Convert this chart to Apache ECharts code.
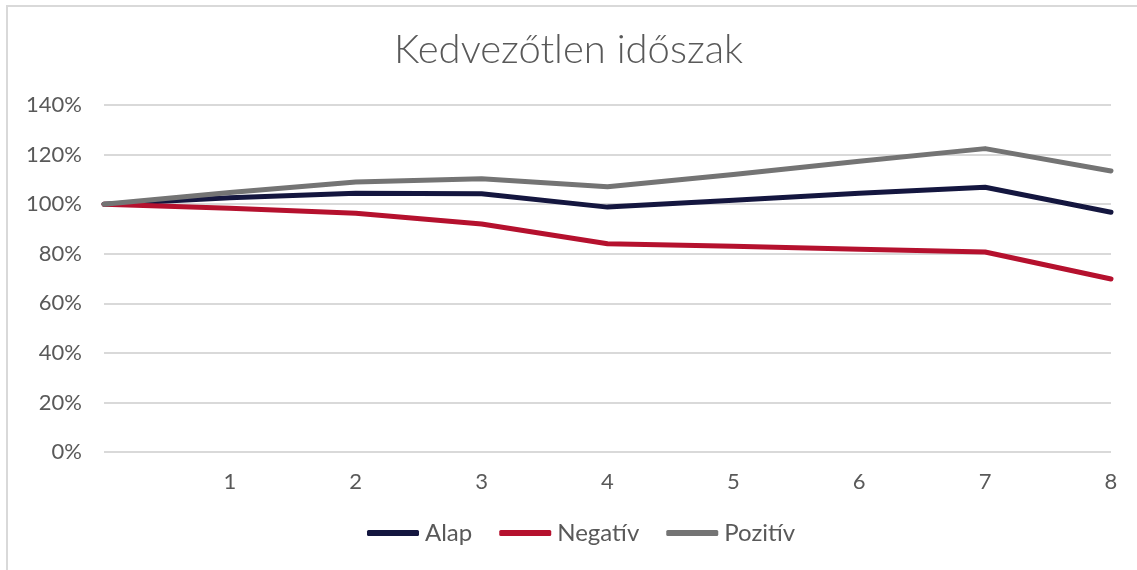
<!DOCTYPE html>
<html>
<head>
<meta charset="utf-8">
<script src="https://cdn.jsdelivr.net/npm/echarts@6/dist/echarts.min.js"></script>
<style>
    html, body { margin: 0; padding: 0; background: #fff; }
    #frame { position: absolute; left: 6px; top: 5px; width: 1131px; height: 565px; border-top: 2px solid #d9d9d9; border-left: 2px solid #d9d9d9; }
    #chart { position: absolute; left: 0; top: 0; width: 1137px; height: 570px; }
</style>
</head>
<body>
<div id="frame"></div>
<div id="chart"></div>
<script>
var periods = ['', '1', '2', '3', '4', '5', '6', '7', '8'];
var alap = [100, 102.6, 104.4, 104.2, 98.8, 101.6, 104.4, 106.8, 96.7];
var negativ = [100, 98.3, 96.3, 92.0, 84.0, 83.0, 81.8, 80.7, 69.8];
var pozitiv = [100, 104.7, 108.9, 110.2, 107.0, 112.0, 117.3, 122.4, 113.4];
var yTicks = [0, 20, 40, 60, 80, 100, 120, 140];

function createLineChart(id) {
    var chart = echarts.init(document.getElementById(id));
    var font = 'Lato';
    function lineSeries(name, data, color) {
        return {
            name: name,
            type: 'line',
            data: data,
            symbol: 'none',
            lineStyle: { width: 5, color: color, cap: 'round', join: 'round' },
            itemStyle: { color: color }
        };
    }
    var option = {
        animation: false,
        title: {
            text: 'Kedvezőtlen időszak',
            left: 'center',
            top: 25,
            textStyle: { fontFamily: font, fontWeight: 300, fontSize: 40, color: '#595959' }
        },
        legend: {
            bottom: 20,
            left: 362,
            itemWidth: 52,
            itemHeight: 6,
            itemGap: 27,
            icon: 'roundRect',
            textStyle: { fontFamily: font, fontSize: 24, color: '#595959', padding: [0, 0, 0, 1] },
            data: ['Alap', 'Negatív', 'Pozitív']
        },
        grid: { left: 104, right: 26, top: 105, bottom: 118, containLabel: false },
        xAxis: {
            type: 'category',
            boundaryGap: false,
            data: periods,
            axisLine: { show: false },
            axisTick: { show: false },
            axisLabel: { fontFamily: font, fontSize: 22, color: '#595959', margin: 19 }
        },
        yAxis: {
            type: 'value',
            min: yTicks[0],
            max: yTicks[yTicks.length - 1],
            interval: 20,
            axisLine: { show: false },
            axisTick: { show: false },
            axisLabel: { fontFamily: font, fontSize: 22, color: '#595959', margin: 22, formatter: '{value}%' },
            splitLine: { lineStyle: { color: '#d9d9d9', width: 2 } }
        },
        series: [
            lineSeries('Alap', alap, '#14163f'),
            lineSeries('Negatív', negativ, '#b5112e'),
            lineSeries('Pozitív', pozitiv, '#747474')
        ]
    };
    chart.setOption(option);
    return chart;
}

createLineChart('chart');
</script>
</body>
</html>
